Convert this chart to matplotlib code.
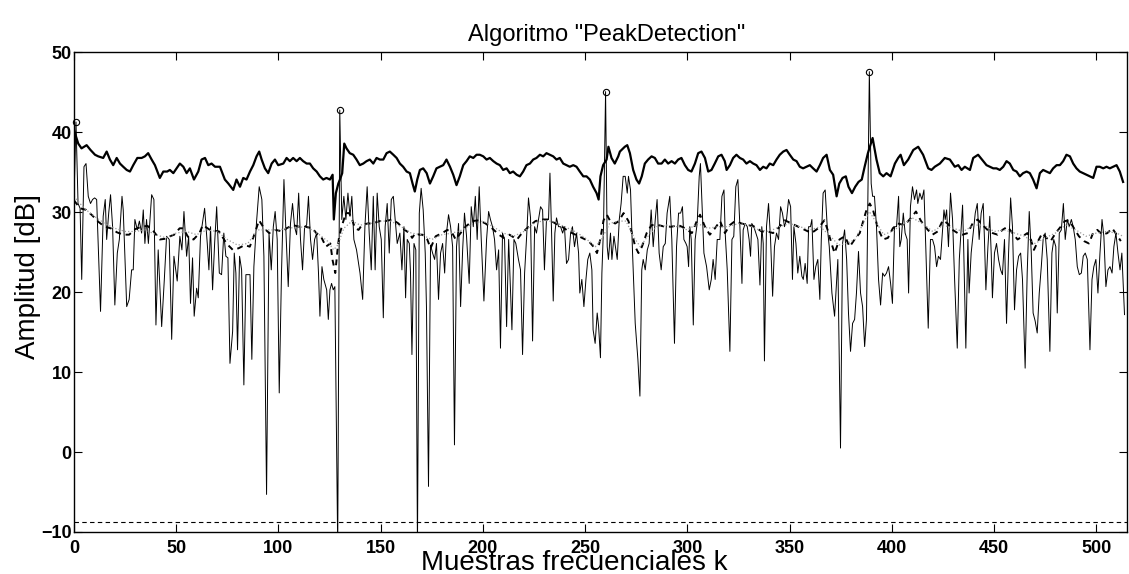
import matplotlib
matplotlib.use("Agg")
import matplotlib.pyplot as plt

# espectro (linea fina)
k_esp = [0, 1, 2, 3, 3.8, 4.9, 5.9, 7.0, 8.1, 9.1, 10.1, 11.1, 13.0, 14.3, 15.3, 16.0, 17.0, 17.9, 18.9, 20.0,
         21.2, 22.2, 23.5, 24.1, 25.8, 27.0, 28.2, 29.0, 29.8, 31.0, 32.0, 33.1, 33.9, 34.7, 35.5, 36.4, 38.0, 39.1,
         40.1, 41.2, 42.9, 44.2, 45.3, 46.6,
         47.8, 48.9, 50.5, 51.8, 52.8, 53.8, 55.1, 56.1, 57.0, 58.0, 58.8, 60.0, 60.8, 61.9, 63.9, 65.2, 66.0, 66.8,
         67.8, 68.8, 69.8, 71.1, 72.2, 73.3, 74.3, 75.3, 76.3, 77.6, 78.4, 79.2, 80.0, 81.0, 82.0, 83.1, 84.1, 86.1,
         87.0, 88.0, 89.3, 90.6, 91.9, 92.9, 94.2, 95.4, 96.5, 97.5, 98.4, 99.4, 100.4,
         101.5, 102.7, 103.7, 104.8, 105.9, 106.9, 107.9, 108.9, 109.9, 110.8, 111.8, 112.8, 113.8, 114.7, 115.7,
         116.7, 117.7, 118.7, 119.6, 120.3, 121.3, 122.2, 123.6, 124.4, 125.2, 126.0, 126.8, 127.6, 129, 130, 131.0,
         132.0, 133.0, 134.0, 135.0, 135.9, 136.9, 138.2, 139.9, 141.2, 142.3, 143.4, 144.4, 145.4, 146.4, 147.3,
         148.3, 149.3, 150.3, 151.3, 152.2, 153.2, 154.2, 155.2, 156.2,
         157.1, 158.1, 159.4, 160.4, 161.4, 162.2, 163.0, 164.0, 164.6, 165.3, 166.3, 167.2, 168, 168.9, 169.8,
         170.8, 171.8, 172.4, 173.4, 174.4, 175.4, 176.4, 177.3, 178.3, 179.3, 180.3, 181.3, 182.2, 183.2, 184.2,
         185.2, 186.1, 187.1, 188.1, 189.1, 190.1, 191.0, 192.0, 193.3, 194.3, 195.3, 196.3, 197.2, 198.2, 199.2,
         200.5, 201.8, 202.8, 203.7, 204.7, 205.7, 206.7, 207.7, 208.6, 209.6, 210.6, 211.6, 212.6,
         214.2, 215.2, 216.1, 217.4, 218.4, 219.4, 220.4, 221.4, 222.3, 223.3, 224.3, 225.3, 226.2, 227.2, 228.2,
         229.2, 230.1, 231.1, 232.1, 232.8, 233.6, 234.4, 235.2, 236.0, 237.0, 238.0, 239.0, 239.9, 240.9, 241.9,
         242.9, 243.8, 244.8, 245.8, 246.8, 247.4, 248.4, 249.4, 250.4, 251.3, 252.3, 253.3, 253.9, 254.9, 255.9,
         256.6, 257.5, 258.2, 259, 260, 260.8, 261.4, 262.4, 263.1, 264.1,
         265.7, 266.7, 267.6, 268.6, 269.6, 270.6, 271.2, 272.2, 273.2, 274.5, 275.8, 276.8, 277.7, 278.4, 279.4,
         280.4, 281.3, 282.3, 283.3, 284.3, 285.2, 286.2, 287.2, 288.2, 289.2, 290.1, 291.4, 292.4, 293.7, 294.7,
         295.7, 296.7, 297.6, 298.3, 299.3, 299.9, 300.6, 301.2, 301.9, 302.9, 303.8, 304.8, 305.8, 306.4, 307.1,
         308.1, 309.4, 310.7, 311.7, 312.6, 313.6, 314.6, 315.9, 316.9, 317.9, 318.5, 319.5, 320.8,
         321.8, 322.7, 323.7, 324.7, 325.7, 326.7, 327.3, 328.3, 329.3, 330.2, 330.9, 331.5, 332.5, 333.5, 334.5,
         335.5, 336.4, 337.1, 337.7, 338.7, 339.7, 340.7, 341.7, 342.6, 343.6, 344.6, 345.6, 346.5, 347.5, 348.5,
         349.5, 350.5, 351.4, 352.1, 353.1, 354.0, 355.0, 356.0, 356.7, 357.6, 358.6, 359.3, 360.2, 360.9, 361.9,
         362.8, 363.8, 364.8, 365.5, 366.4, 367.4, 368.4, 369.4, 370.7, 372.0,
         373.6, 374.9, 375.9, 376.9, 377.9, 378.8, 379.8, 380.8, 381.8, 382.7, 383.7, 384.7, 385.7, 386.7, 387.6,
         389, 389.9, 390.6, 391.5, 392.5, 393.5, 394.5, 395.5, 396.4, 397.4, 398.4, 399.4, 400.3, 401.3, 402.3,
         403.3, 403.9, 404.6, 405.6, 406.5, 407.5, 408.2, 409.1, 410.1, 411.1, 412.1, 412.7, 413.7, 414.7, 415.7,
         416.6, 417.8, 418.9, 419.9, 420.9, 421.9, 422.8, 423.8,
         425.5, 426.1, 426.8, 427.7, 428.7, 429.7, 430.7, 432.0, 433.0, 433.9, 434.6, 435.2, 436.2, 437.2, 437.8,
         438.8, 439.8, 440.8, 441.8, 442.7, 443.7, 444.7, 445.3, 446.0, 447.0, 447.9, 448.6, 449.2, 450.2, 451.2,
         452.2, 453.2, 454.1, 455.1, 456.1, 457.1, 458.1, 459.0, 460.0, 461.0, 462.0, 463.0, 463.9, 465.2, 466.2,
         467.2, 468.2, 469.1, 470.1, 471.1, 472.1, 473.1, 474.0, 475.0, 476.0, 477.3, 478.3, 479.2, 480.2, 480.9,
         481.9, 482.9, 483.9, 484.8, 485.8, 486.8, 487.8, 488.7, 489.7, 490.7, 491.7, 492.7, 493.6, 494.6, 495.6,
         496.9, 497.9, 498.8, 499.8, 500.8, 501.8, 502.8, 503.7, 504.7, 505.7, 506.7, 507.7, 508.6, 509.6, 510.6,
         511.6, 512.5, 513.8]
db_esp = [31.5, 41.3, 31.1, 30.5, 21.6, 35.7, 36.1, 32.0, 31.1, 31.6, 31.8, 31.6, 17.6, 29.5, 31.6, 26.6, 29.9, 32.2, 28.2, 18.4,
          24.9, 26.6, 32.0, 30.3, 18.2, 19.1, 22.8, 22.8, 29.1, 27.8, 28.9, 27.4, 30.3, 26.1, 29.1, 26.1, 32.2, 31.6,
          15.9, 25.3, 15.7, 21.6, 27.0, 26.6,
          14.1, 24.5, 21.4, 27.0, 25.3, 30.1, 24.5, 27.0, 18.6, 24.3, 17.0, 20.5, 19.3, 27.0, 30.5, 26.1, 22.8, 28.2,
          20.3, 26.1, 30.7, 22.4, 22.2, 27.4, 24.5, 24.3, 11.1, 15.1, 24.9, 22.4, 12.8, 24.5, 22.8, 8.4, 22.2, 22.2,
          11.6, 23.2, 28.8, 33.2, 31.6, 24.5, -5.3, 27.4, 22.8, 28.2, 30.1, 26.6, 7.4,
          22.4, 34.1, 27.4, 20.7, 28.6, 31.1, 28.2, 27.2, 32.4, 26.6, 22.8, 28.2, 28.4, 32.0, 26.6,
          24.1, 26.6, 27.4, 22.4, 17.0, 23.2, 21.6, 20.3, 16.6, 20.3, 21.1, 20.3, 20.7, -12.0, 42.8, 29.1,
          32.0, 29.1, 32.4, 29.5, 32.0, 26.6, 25.3, 22.4, 19.1, 28.2, 33.2, 27.4, 22.8, 32.0, 22.8,
          32.4, 28.2, 26.6, 16.8, 28.2, 31.1, 24.9, 31.6, 32.0,
          29.1, 26.1, 27.4, 22.8, 28.2, 19.3, 26.6, 26.1, 22.4, 12.2, 26.1, 25.3, -12.0, 29.9, 33.0,
          30.3, 24.9, 18.2, -4.3, 25.9, 24.9, 24.1, 26.1, 19.1, 24.9, 26.1, 22.4, 27.4, 29.7, 28.2,
          25.7, 0.9, 25.7, 28.6, 18.2, 25.3, 29.9, 27.0, 21.1, 30.7, 28.2, 32.0, 26.6, 33.2, 26.6,
          18.9, 26.6, 30.1, 29.1, 28.2, 26.6, 22.8, 25.3, 13.0, 27.4, 26.6, 15.7, 26.6,
          15.3, 26.6, 26.1, 24.1, 22.8, 12.2, 22.4, 27.0, 31.8, 29.3, 13.9, 28.2, 27.4, 29.1, 30.7,
          30.3, 22.8, 29.1, 29.1, 34.9, 27.4, 18.9, 27.4, 29.3, 28.2, 28.2, 27.4, 28.2, 23.6, 24.1,
          27.4, 28.2, 25.7, 27.4, 24.9, 19.9, 21.6, 18.2, 21.6, 24.1, 24.9, 22.8, 15.3, 13.6, 17.4,
          15.7, 11.8, 22.4, 28.2, 45.1, 25.7, 24.1, 27.4, 24.1, 27.0,
          24.1, 29.1, 31.1, 34.5, 34.5, 32.4, 34.5, 32.8, 24.9, 16.1, 11.6, 7.0, 22.8, 24.1, 22.8,
          25.3, 26.1, 30.3, 25.7, 29.1, 31.6, 24.9, 22.8, 25.7, 26.1, 29.9, 32.0, 26.6, 13.6, 25.7,
          29.9, 29.9, 30.7, 26.6, 26.1, 25.7, 23.2, 28.2, 26.6, 15.9, 26.6, 28.6, 34.5, 36.1, 31.6,
          24.9, 23.2, 20.3, 21.6, 24.1, 21.6, 26.6, 26.6, 32.0, 32.8, 27.4, 22.8, 12.6,
          26.6, 27.0, 33.2, 34.1, 28.2, 21.1, 27.8, 28.6, 28.2, 26.6, 24.5, 28.6, 28.2, 27.4, 26.6,
          20.9, 28.2, 26.1, 11.4, 28.2, 31.1, 26.6, 19.5, 25.7, 27.4, 26.6, 30.7, 29.9, 28.2, 29.1,
          31.6, 30.7, 21.6, 28.2, 26.1, 22.4, 24.5, 22.0, 21.6, 23.6, 21.1, 28.2, 28.2, 29.1, 21.6,
          23.2, 24.1, 19.1, 26.6, 32.4, 32.8, 28.2, 25.7, 19.9, 17.0,
          24.1, 0.5, 26.1, 27.8, 24.1, 17.4, 12.6, 16.1, 16.6, 19.9, 25.1, 19.9, 18.2, 13.2, 16.6,
          47.6, 33.6, 32.0, 32.0, 28.2, 21.6, 18.4, 22.4, 22.0, 22.4, 23.2, 21.1, 18.6, 28.2, 28.2,
          32.0, 25.7, 26.6, 29.9, 27.4, 26.6, 19.9, 30.7, 33.2, 31.6, 32.8, 31.1, 32.4, 31.6, 32.8,
          25.7, 15.5, 26.6, 26.6, 25.7, 23.2, 24.5, 24.1,
          30.3, 29.1, 30.3, 25.7, 32.4, 29.1, 21.6, 13.0, 24.1, 27.8, 30.9, 24.9, 13.0, 26.6, 19.9,
          24.9, 27.4, 29.9, 31.1, 26.6, 29.9, 31.1, 26.6, 20.3, 25.7, 29.5, 24.9, 19.3, 24.9, 26.1,
          24.1, 22.8, 22.2, 26.6, 16.1, 24.9, 31.8, 28.2, 17.8, 22.8, 24.5, 24.9, 21.6, 10.5, 22.4,
          30.1, 24.9, 17.4, 16.4, 14.9, 19.9, 23.2, 26.6, 27.4, 24.1, 12.6, 24.9, 26.6, 25.7, 17.4,
          27.4, 27.8, 31.1, 26.6, 29.1, 28.2, 29.1, 28.2, 26.6, 23.2, 22.2, 22.4, 24.5, 24.9, 24.1,
          12.8, 21.6, 23.2, 24.1, 19.9, 24.9, 29.1, 27.0, 20.7, 22.8, 23.2, 22.4, 25.7, 27.4, 24.9,
          22.8, 24.9, 17.2]

# envolvente (linea gruesa)
k_env = [0, 2.1, 3.7, 6.2, 8.1, 10.3, 11.9, 14.3, 16.0, 17.6, 19.2, 20.9, 22.5, 24.1, 25.8, 27.4, 29.0, 31.0,
         33.1, 34.7, 36.3, 38.0, 39.6, 42.0, 43.7, 45.6, 46.9, 48.6, 50.2, 51.8, 53.5, 55.1, 56.7, 58.7, 60.8,
         62.4, 64.1, 65.7, 67.3, 69.0, 71.4, 73.8, 75.5, 77.9, 79.5, 81.2, 82.8, 84.4, 86.1, 87.7, 89.3, 90.6,
         91.8, 93.4, 95.0, 96.7, 98.3, 99.9, 102.4, 104.0, 105.6, 107.2, 108.9, 110.5, 112.1, 113.8, 115.4,
         117.0, 118.7, 120.3, 121.9, 123.5, 125.2, 126.5, 127.1, 128.1, 129.3, 130.1, 131.2, 132.2, 133.3,
         134.9, 136.6, 138.2, 139.8, 141.5, 143.1, 144.7, 146.4, 148.0, 149.6, 151.3, 152.9, 154.5, 156.2,
         157.8, 159.4, 161.0, 162.7, 164.3, 165.6, 166.7, 167.9, 169.2, 170.8, 172.5, 174.1, 175.7, 177.3,
         179.0, 180.6, 182.2, 183.9, 185.5, 187.1, 188.7, 190.4, 192.0, 193.6, 195.3, 196.9, 198.5, 200.2,
         201.8, 203.4, 205.1, 206.7, 208.3, 209.9, 211.6, 213.2, 214.8, 216.5, 218.1, 219.7, 221.3, 223.0,
         224.6, 226.2, 227.9, 229.5, 231.1, 232.8, 234.4, 236.0, 237.6, 239.3, 240.9, 242.5, 244.2, 245.8,
         247.4, 249.1, 250.7, 252.3, 253.9, 255.6, 256.6, 257.5, 258.8, 260.5, 261.4, 262.9, 264.5, 266.2,
         267.0, 269.4, 270.6, 271.9, 273.5, 275.1, 276.4, 277.7, 279.2, 280.8, 282.5, 284.1, 285.7, 287.4,
         289.0, 290.6, 292.3, 293.9, 295.5, 297.1, 298.8, 300.4, 302.0, 303.7, 305.3, 306.9, 308.6, 310.2,
         311.8, 313.4, 315.1, 316.7, 318.3, 319.2, 320.8, 322.4, 324.0, 325.7, 327.3, 328.9, 330.6, 332.2,
         333.8, 335.5, 337.1, 338.7, 340.3, 342.0, 343.6, 345.2, 346.9, 348.5, 350.1, 351.8, 353.4, 355.0,
         356.6, 358.3, 359.9, 361.5, 363.2, 364.8, 366.4, 368.1, 369.7, 371.3, 373.0, 374.3, 375.9, 377.5,
         378.8, 380.5, 382.1, 383.7, 385.3, 386.7, 388.3, 390.6, 392.5, 394.1, 395.8, 397.4, 399.4, 401.5,
         403.1, 404.3, 405.9, 408.0, 410.5, 412.9, 415.3, 417.8, 419.4, 421.0, 423.5, 425.9, 428.4, 430.8,
         432.5, 434.1, 435.7, 438.2, 439.8, 442.2, 444.7, 446.3, 447.9, 449.6, 451.2, 452.8, 454.5, 456.1,
         457.7, 459.4, 461.0, 462.6, 464.2, 465.9, 467.5, 469.1, 470.8, 472.4, 474.0, 475.7, 477.3, 478.9,
         480.6, 482.2, 483.8, 485.4, 487.1, 488.7, 490.3, 491.9, 493.6, 495.2, 496.8, 498.5, 500.1, 501.7,
         503.4, 505.0, 506.6, 508.3, 509.9, 511.5, 513.1]
db_env = [40.3, 38.6, 38.0, 38.4, 37.8, 37.2, 37.0, 36.8, 37.6, 36.6, 35.9, 36.8, 36.1, 35.7, 35.3, 35.1, 35.9, 36.8,
          36.8, 37.0, 37.4, 36.6, 35.9, 34.3, 35.1, 35.1, 35.3, 34.9, 35.5, 36.1, 35.7, 34.9, 35.5, 34.1, 35.1,
          36.6, 36.8, 35.9, 36.1, 35.7, 35.7, 34.1, 33.6, 32.8, 34.1, 33.2, 34.3, 34.1, 35.1, 35.9, 37.0, 37.6,
          36.6, 35.5, 34.9, 36.1, 36.6, 35.9, 36.1, 36.8, 36.4, 36.8, 36.4, 36.8, 36.4, 36.1, 36.1,
          35.5, 35.1, 34.5, 34.1, 34.3, 34.1, 34.7, 29.1, 32.4, 33.6, 34.1, 34.9, 38.6, 38.0,
          37.4, 37.2, 36.6, 35.9, 36.1, 36.4, 36.6, 36.1, 36.8, 36.6, 36.6, 37.4, 37.6, 37.2,
          36.8, 36.1, 35.7, 35.1, 34.9, 33.6, 32.6, 34.1, 35.3, 35.5, 34.9, 33.6, 34.5, 35.5,
          35.7, 35.9, 36.6, 35.7, 34.7, 33.4, 34.5, 35.9, 36.4, 37.0, 36.8, 37.2, 37.2, 37.0,
          36.6, 36.8, 36.4, 36.1, 35.9, 35.3, 35.5, 34.9, 35.1, 34.7, 34.5, 35.1, 35.9, 36.1,
          36.6, 36.8, 37.2, 37.0, 37.4, 37.2, 37.0, 36.6, 36.8, 36.1, 35.9, 35.7, 35.9, 35.7,
          35.1, 34.5, 34.5, 34.1, 33.2, 32.4, 31.6, 34.5, 35.9, 36.6, 38.2, 36.8, 36.1, 37.0,
          37.6, 38.2, 38.4, 37.4, 35.3, 34.1, 33.6, 34.5, 36.1, 36.6, 37.0, 36.8, 36.1, 36.1,
          36.6, 36.1, 36.4, 36.1, 36.6, 36.8, 35.9, 35.3, 35.1, 36.1, 37.4, 37.6, 36.8, 35.1,
          35.3, 36.1, 37.0, 37.2, 36.4, 35.3, 35.9, 36.8, 37.2, 36.8, 36.6, 36.1, 36.4, 36.1,
          35.9, 35.3, 35.7, 35.5, 36.1, 35.9, 36.6, 37.2, 37.6, 37.8, 37.2, 36.6, 36.4, 35.7,
          35.5, 35.7, 35.9, 35.5, 35.1, 35.9, 36.8, 37.2, 35.3, 34.7, 32.0, 33.6, 34.3, 34.5,
          33.2, 32.4, 33.2, 33.8, 34.1, 35.7, 37.4, 39.3, 36.6, 34.9, 34.5, 34.9, 34.5, 36.1,
          36.8, 37.2, 35.9, 36.6, 37.8, 38.2, 37.2, 35.5, 35.3, 35.7, 36.1, 36.8, 36.6, 35.7,
          35.9, 35.3, 35.7, 35.3, 36.8, 37.2, 36.4, 35.9, 35.7, 35.5, 35.5, 35.3, 35.7, 36.4,
          36.1, 35.3, 35.1, 34.5, 34.9, 35.1, 34.9, 34.1, 33.0, 34.9, 35.3, 35.1, 34.9, 35.5,
          35.9, 35.9, 36.4, 37.2, 37.0, 36.1, 35.5, 35.1, 34.9, 34.7, 34.5, 34.3, 35.7, 35.7,
          35.5, 35.7, 35.5, 35.7, 35.9, 35.1, 33.8]

# media (linea a trazos)
k_media = [0, 3, 6, 9, 12, 15, 18, 21, 24, 27, 30, 33, 36, 39, 42, 45, 47, 49, 51.7, 53.5, 56, 58.5, 61.4, 63,
           66.5, 71, 74.6, 77.7, 80.5, 83.5, 86, 88.5, 90.5, 93, 95.5, 98.7, 102, 104, 107, 110, 113, 116.7,
           118.5, 120.8, 123.2, 125.4, 126.5, 127.8, 128.9, 129.7, 131.4, 133, 134.6, 136, 137.5, 139.2, 140.8,
           143.6, 146, 149.5, 152.5, 155.7, 158.7, 160.7, 164, 165.4, 167, 168.8, 170.4, 172.8, 174.4, 176.9,
           180.1, 182.6, 185, 186.7, 189.1, 191.5, 194.8, 198, 201.3, 204.5, 207.8, 210.2, 213, 216.7, 219.1,
           222.4, 225.7, 229, 232.2, 235.5, 238.7, 242, 245.3, 248.5, 251.7, 254.1, 255.8, 257.4, 259, 260.6,
           262.3, 264.7, 266.5, 268.8, 271.2, 272.9, 274.5, 276.1, 277.8, 280.1, 282.5, 285.8, 289, 292.3,
           295.6, 298.9, 302.2, 304.6, 306.2, 308.6, 311, 313.5, 316, 318.4, 320.8, 323.3, 326.5, 329.8, 333,
           336.3, 339.5, 341.9, 344.4, 347.7, 351, 354.2, 357.4, 360.7, 364, 367, 368.6, 370.5, 372, 374.4,
           377, 379.4, 381.8, 384.3, 386, 387.6, 389.2, 390.8, 393.2, 395.7, 398.1, 400.5, 402.9, 406.2,
           409.4, 411.8, 414.3, 417.6, 419.9, 422.4, 424.9, 427.3, 429.7, 432.2, 434.6, 437.1, 439.5, 442,
           444.4, 446.8, 449.3, 451.7, 454.1, 456.6, 459, 461.5, 464, 466.3, 468, 469.5, 471.5, 473.6, 475.6,
           477.7, 480.1, 482.6, 484.6, 486.7, 489.1, 491.5, 494, 496.4, 498.4, 500.5, 503, 505.4, 507.8,
           509.4, 512]
db_media = [31.5, 30.5, 30.3, 29.6, 28.8, 28.2, 28.0, 27.5, 27.2, 27.2, 27.9, 28.2, 28.3, 27.6, 26.6, 26.7, 27.0,
            27.2, 28.0, 28.0, 26.8, 26.6, 27.4, 28.4, 27.8, 27.6, 26.1, 25.3, 25.5, 25.9, 25.7, 27.4, 29.0, 28.0,
            27.4, 27.8, 27.6, 28.0, 28.4, 28.2, 28.2, 28.0, 27.4, 27.0, 25.7, 26.1, 24.0, 22.4, 25.3, 27.0, 28.6,
            29.9, 29.9, 29.1, 28.0, 27.8, 28.4, 28.6, 28.6, 28.9, 28.9, 29.1, 28.6, 28.0, 27.4, 26.8, 27.4, 27.2,
            27.2, 26.6, 25.5, 27.0, 27.4, 27.8, 27.4, 26.6, 27.4, 28.2, 28.9, 29.0, 28.6, 28.0, 27.2, 26.8, 27.2,
            26.6, 27.4, 28.2, 28.9, 29.1, 29.1, 28.6, 28.2, 27.6, 27.2, 26.8, 26.4, 25.7, 24.9, 26.6, 29.0, 29.7,
            28.9, 28.6, 28.9, 29.9, 28.9, 27.4, 25.7, 24.9, 25.7, 27.4, 28.4, 28.4, 28.2, 28.2, 28.4, 28.0, 27.4,
            28.9, 29.7, 28.2, 27.2, 28.0, 28.9, 27.4, 28.4, 28.9, 28.6, 28.4, 28.2, 27.6, 27.6, 27.4, 28.0, 29.0,
            28.6, 28.2, 27.8, 27.4, 28.0, 29.0, 27.8, 26.1, 24.9, 26.6, 27.0, 25.7, 26.6, 27.4, 28.9, 30.3, 31.1,
            30.3, 28.0, 26.6, 26.8, 28.0, 28.6, 28.4, 29.3, 30.1, 28.9, 27.8, 27.2, 27.6, 29.0, 28.6, 27.8, 27.4,
            27.2, 27.4, 28.6, 29.1, 28.4, 27.8, 27.4, 27.2, 27.8, 28.2, 27.4, 26.6, 27.0, 27.4, 26.6, 25.3, 26.4,
            27.4, 26.8, 26.4, 27.4, 28.2, 28.9, 29.0, 28.0, 27.0, 26.4, 26.1, 27.4, 27.8, 27.2, 27.4, 28.0, 27.4,
            26.4]

# media suavizada (punteada gris)
k_suave = [0, 5, 10, 15, 20, 25, 30, 35, 40, 45, 50, 55, 60, 65, 70, 75, 80, 85, 90, 95, 100, 105, 110, 115, 120,
           124, 127, 129, 132, 136, 140, 145, 150, 155, 160, 165, 170, 175, 180, 185, 190, 195, 200, 205, 210,
           215, 220, 225, 230, 235, 240, 245, 250, 255, 258, 262, 266, 270, 274, 277, 280, 285, 290, 295, 300,
           305, 310, 315, 320, 325, 330, 335, 340, 345, 350, 355, 360, 365, 370, 374, 378, 382, 386, 389, 392,
           396, 400, 405, 410, 415, 420, 425, 430, 435, 440, 445, 450, 455, 460, 465, 470, 475, 480, 485, 490,
           495, 500, 505, 510, 513]
db_suave = [32.0, 30.5, 29.5, 28.6, 28.0, 27.6, 27.6, 27.8, 27.2, 26.8, 27.4, 27.6, 27.2, 27.8, 27.6, 26.6, 25.9,
            26.1, 27.8, 27.8, 27.8, 28.0, 28.2, 28.0, 27.2, 26.4, 25.3, 25.9, 28.0, 28.9, 28.4, 28.6, 28.9, 28.9,
            28.2, 27.4, 27.2, 26.6, 27.2, 27.4, 27.8, 28.6, 28.9, 28.2, 27.4, 27.0, 27.6, 28.6, 29.0, 28.8, 28.2,
            27.6, 26.8, 25.7, 26.6, 28.6, 28.9, 28.9, 26.8, 25.7, 26.8, 28.2, 28.4, 28.2, 27.8, 28.6, 28.0, 28.2,
            28.2, 28.6, 28.4, 27.8, 27.6, 28.2, 28.6, 28.2, 27.8, 28.2, 27.0, 25.9, 26.1, 26.6, 28.6, 30.1, 28.9,
            27.2, 27.6, 28.4, 29.3, 28.6, 27.6, 28.4, 28.0, 27.6, 28.4, 28.4, 27.6, 27.8, 27.4, 27.0, 26.1, 26.8,
            27.4, 28.4, 27.8, 27.0, 27.4, 27.6, 27.4, 27.0]

# picos detectados
k_picos = [1, 130, 260, 389]
db_picos = [41.3, 42.8, 45.1, 47.6]

umbral = -8.77

fuente = "Liberation Sans"
plt.rcParams['font.family'] = [fuente, 'DejaVu Sans']

fig = plt.figure(figsize=(11.29, 5.74), dpi=100)
ax = fig.add_axes([0.0655, 0.0732, 0.9327, 0.8354])

ax.plot(k_esp, db_esp, color='k', lw=0.7)
ax.plot(k_env, db_env, color='k', lw=1.6)
ax.plot(k_media, db_media, color='k', lw=1.4, linestyle=(0, (3, 2.5)))
ax.plot(k_suave, db_suave, color='#9a9a9a', lw=0.9, linestyle=':')
ax.axhline(umbral, color='k', lw=0.8, linestyle=(0, (4, 3)))
ax.plot(k_picos, db_picos, 'o', mfc='none', mec='k', ms=4.5, mew=0.8, clip_on=False)

ax.set_xlim(0, 515)
ax.set_ylim(-10, 50)
ax.set_xticks(range(0, 501, 50))
ax.set_yticks(range(-10, 51, 10))
ax.tick_params(direction='in', top=True, right=True, length=6, width=0.8,
               labelsize=13, pad=5.5)
ax.tick_params(axis='y', pad=1.5)
for lab in ax.get_xticklabels() + ax.get_yticklabels():
    lab.set_fontweight('bold')
for s in ax.spines.values():
    s.set_linewidth(1.0)

ax.set_title('Algoritmo "PeakDetection"', fontsize=17, pad=8, x=0.5057)
ax.set_xlabel('Muestras frecuenciales k', fontsize=20)
ax.set_ylabel('Amplitud [dB]', fontsize=20)
ax.xaxis.set_label_coords(0.475, -0.037)
ax.yaxis.set_label_coords(-0.031, 0.532)

fig.savefig('out.png', dpi=100)
